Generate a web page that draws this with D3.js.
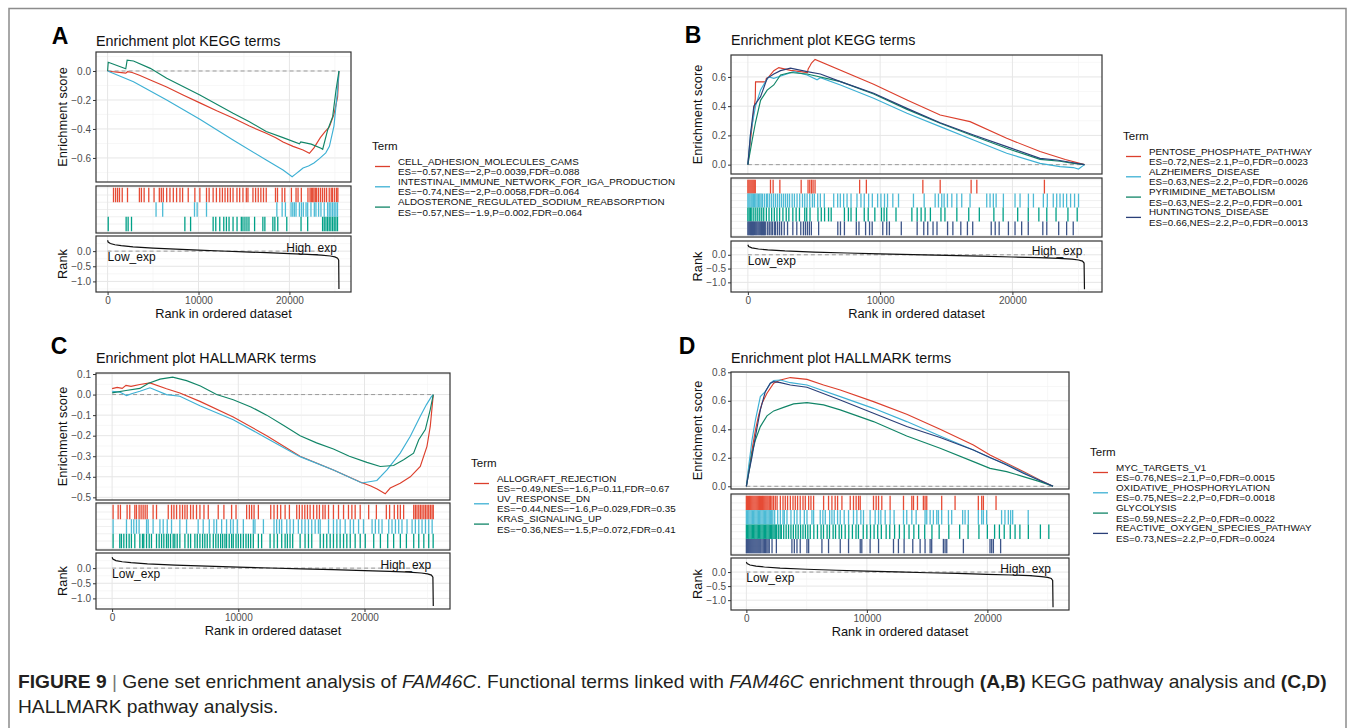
<!DOCTYPE html>
<html>
<head>
<meta charset="utf-8">
<script src="https://cdn.jsdelivr.net/npm/d3@7"></script>
<style>
  body { margin: 0; background: #fff; }
  svg { display: block; }
  text { font-family: 'Liberation Sans', Arial, Helvetica, sans-serif; }
</style>
</head>
<body>
<svg id="fig" width="1355" height="728"></svg>
<script>
// ---------- data ----------
const xTicks = [0, 10000, 20000]
const xMinor = [5000, 15000, 25000]
const rankTicks = [0, -0.5, -1]
const rankMetric = [[0, 0.36], [60, 0.3], [300, 0.25], [800, 0.21], [1500, 0.18], [2800, 0.14], [5000, 0.1], [7500, 0.065],
  [10000, 0.035], [12500, 0.005], [15000, -0.025], [17500, -0.05], [20000, -0.08], [22000, -0.105], [23500, -0.13],
  [24500, -0.16], [25000, -0.19], [25300, -0.23], [25420, -0.3], [25450, -1.25]]

// A: KEGG (negative)
const termsA = ['CELL_ADHESION_MOLECULES_CAMS', 'INTESTINAL_IMMUNE_NETWORK_FOR_IGA_PRODUCTION', 'ALDOSTERONE_REGULATED_SODIUM_REABSORPTION']
const statsA = ['ES=−0.57,NES=−2,P=0.0039,FDR=0.088', 'ES=−0.74,NES=−2,P=0.0058,FDR=0.064', 'ES=−0.57,NES=−1.9,P=0.002,FDR=0.064']
const esTicksA = [0, -0.2, -0.4, -0.6]
const esCams = [[0, 0], [600, -0.005], [1300, -0.01], [2000, -0.015], [2200, -0.005], [2700, -0.01], [3500, -0.03], [4700, -0.062],
  [6500, -0.11], [8300, -0.165], [10150, -0.22], [12000, -0.275], [13800, -0.325], [15600, -0.38], [17450, -0.43], [18500, -0.46],
  [19300, -0.49], [20400, -0.52], [21500, -0.545], [22200, -0.568], [22700, -0.53], [23400, -0.46], [23900, -0.42], [24400, -0.385],
  [24900, -0.3], [25300, -0.18], [25450, 0]]
const esIga = [[0, 0], [2850, -0.074], [6500, -0.2], [10150, -0.333], [13800, -0.476], [17450, -0.614], [19300, -0.683], [20300, -0.73],
  [20700, -0.71], [21100, -0.69], [21500, -0.67], [22100, -0.655], [22700, -0.635], [23300, -0.605], [24000, -0.565], [24400, -0.52],
  [24900, -0.38], [25300, -0.13], [25450, 0]]
const esAldo = [[0, 0], [70, 0.06], [2000, 0.015], [2150, 0.075], [2850, 0.069], [4700, 0.018], [6500, -0.05], [10150, -0.166],
  [13800, -0.292], [15600, -0.35], [17450, -0.418], [19300, -0.46], [21100, -0.503], [21250, -0.49], [22400, -0.505], [23480, -0.533],
  [23660, -0.54], [24210, -0.407], [24760, -0.315], [25130, -0.13], [25450, 0]]
const hitsCams = [650, 880, 1100, 1310, 1610, 2190, 3500, 3720, 4020, 4530, 5110, 5690, 5910, 6130, 6500, 6860, 7230, 7590, 7960, 8250,
  8870, 9600, 10150, 10880, 11170, 11610, 11970, 12340, 12630, 12920, 13210, 13500, 13800, 14230, 14530, 14890, 15260, 15440, 15990,
  16280, 16570, 16860, 17150, 17450, 18470, 18690, 19200, 19490, 20220, 20730, 20950, 21310, 22040, 22270, 22410, 22560, 22700, 22850,
  23000, 23210, 23430, 23650, 23870, 24090, 24380, 24600, 24750, 24970, 25190, 25330]
const hitsIga = [5330, 6060, 9560, 9850, 10880, 18620, 19200, 19560, 20180, 20370, 20550, 20730, 21100, 21320, 21530, 21830, 22010,
  22370, 22740, 22920, 23210, 23470, 23830, 24200, 24380, 24560, 24750, 24930, 25110, 25290]
const hitsAldo = [70, 2040, 2260, 2630, 8500, 9130, 11610, 11900, 12340, 12780, 13070, 13360, 13800, 14240, 14710, 14890, 15110, 15330,
  15550, 16170, 17080, 17300, 18180, 18400, 18720, 19710, 21280, 22010, 23650, 23830, 24020, 24200, 24380, 24560, 24750, 24930, 25110, 25290]

// B: KEGG (positive)
const termsB = ['PENTOSE_PHOSPHATE_PATHWAY', 'ALZHEIMERS_DISEASE', 'PYRIMIDINE_METABOLISM', 'HUNTINGTONS_DISEASE']
const statsB = ['ES=0.72,NES=2.1,P=0,FDR=0.0023', 'ES=0.63,NES=2.2,P=0,FDR=0.0026', 'ES=0.63,NES=2.2,P=0,FDR=0.001', 'ES=0.66,NES=2.2,P=0,FDR=0.0013']
const esTicksB = [0, 0.2, 0.4, 0.6]
const esPentose = [[0, 0], [200, 0.17], [450, 0.37], [560, 0.45], [580, 0.566], [1330, 0.566], [1400, 0.59], [1580, 0.6], [1960, 0.643],
  [2340, 0.664], [3220, 0.645], [3970, 0.636], [4500, 0.63], [4560, 0.655], [4690, 0.675], [4810, 0.695], [5080, 0.72], [9510, 0.55],
  [12030, 0.442], [14540, 0.34], [16800, 0.294], [19570, 0.18], [22090, 0.09], [24000, 0.035], [25450, 0]]
const esAlz = [[0, 0], [200, 0.21], [580, 0.4], [960, 0.51], [1330, 0.568], [1580, 0.6], [1960, 0.59], [2720, 0.613], [3470, 0.636],
  [4480, 0.613], [5230, 0.58], [5480, 0.595], [7000, 0.545], [9510, 0.454], [12030, 0.351], [14540, 0.26], [17060, 0.169], [19570, 0.078],
  [22090, 0.009], [23600, -0.014], [24600, -0.02], [25000, -0.03], [25450, 0]]
const esPyr = [[0, 0], [330, 0.17], [580, 0.29], [960, 0.44], [1460, 0.51], [1960, 0.545], [2470, 0.613], [3220, 0.63], [4480, 0.62],
  [7000, 0.568], [9510, 0.483], [12030, 0.378], [14540, 0.283], [17060, 0.196], [19570, 0.112], [22090, 0.036], [23600, 0.023],
  [24500, 0.01], [25450, 0]]
const esHunt = [[0, 0], [200, 0.21], [450, 0.4], [960, 0.465], [1460, 0.59], [1960, 0.62], [2470, 0.643], [3220, 0.66], [4480, 0.636],
  [5480, 0.62], [7000, 0.568], [9510, 0.488], [12030, 0.385], [14540, 0.287], [17060, 0.203], [19570, 0.123], [22090, 0.043],
  [23350, 0.032], [24500, 0.015], [25450, 0]]
const hitsPentose = [0, 80, 160, 240, 320, 400, 480, 560, 1710, 1910, 2420, 4030, 4550, 4680, 4810, 4930, 5080, 8450, 8960, 13230,
  14540, 16880, 17310, 22420]
const hitsAlz = [0, 80, 160, 250, 330, 420, 500, 600, 700, 800, 900, 1000, 1100, 1250, 1400, 1500, 1650, 1800, 1950, 2100, 2250, 2400,
  2550, 2700, 2850, 3000, 3150, 3350, 3520, 3720, 3920, 4130, 4300, 4480, 4680, 4880, 5030, 5280, 5480, 5780, 6490, 6790, 6990, 7240,
  7500, 7800, 8250, 8550, 8800, 9130, 9410, 9810, 10060, 10330, 10560, 10960, 11390, 12520, 13330, 14160, 14410, 14660, 14840, 15090,
  15420, 15800, 16170, 16800, 18060, 18310, 18560, 18770, 19320, 20200, 20580, 21210, 21590, 22340, 22640, 23090, 23350, 23600, 23850,
  24100, 24400, 24700, 25000]
const hitsPyr = [0, 100, 200, 300, 450, 600, 750, 900, 1050, 1200, 1400, 1600, 1800, 2000, 2200, 2400, 2650, 2900, 3100, 3400, 3650,
  3900, 4300, 4450, 4700, 5300, 5550, 5800, 6100, 6300, 7300, 7600, 7800, 8200, 8800, 9100, 9600, 10100, 10300, 10500, 11200, 12400,
  12800, 13100, 13400, 13800, 14600, 14900, 15800, 16700, 17500, 18600, 19300, 20400, 21200, 22000, 22600, 23300, 24200, 24900]
const hitsHunt = [0, 70, 140, 210, 280, 350, 420, 490, 560, 630, 700, 780, 860, 940, 1020, 1100, 1180, 1260, 1350, 1500, 1620, 1750,
  1850, 2000, 2100, 2250, 2400, 2550, 2750, 3000, 3400, 3700, 4000, 4200, 4350, 4500, 4650, 4800, 5350, 6800, 7000, 7300, 8200, 8400,
  8900, 9200, 9400, 10200, 10500, 10700, 11600, 12800, 13300, 13600, 14000, 14300, 15100, 15500, 16100, 16600, 17000, 18400, 18700,
  19000, 19700, 20200, 20700, 21200, 22300, 22600, 23500, 24100, 24600]

// C: HALLMARK (negative)
const termsC = ['ALLOGRAFT_REJECTION', 'UV_RESPONSE_DN', 'KRAS_SIGNALING_UP']
const statsC = ['ES=−0.49,NES=−1.6,P=0.11,FDR=0.67', 'ES=−0.44,NES=−1.6,P=0.029,FDR=0.35', 'ES=−0.36,NES=−1.5,P=0.072,FDR=0.41']
const esTicksC = [0.1, 0, -0.1, -0.2, -0.3, -0.4, -0.5]
const esAllo = [[0, 0.029], [400, 0.035], [800, 0.03], [1100, 0.045], [1500, 0.04], [2200, 0.049], [3000, 0.057], [4310, 0.028],
  [5370, 0.008], [6960, -0.033], [9600, -0.109], [12250, -0.2], [14890, -0.3], [17540, -0.367], [19660, -0.425], [20500, -0.445],
  [21000, -0.46], [21640, -0.483], [22040, -0.455], [22830, -0.431], [23630, -0.4], [24420, -0.35], [24950, -0.252], [25210, -0.155],
  [25450, 0]]
const esUv = [[0, 0.016], [600, 0.012], [1140, -0.005], [1600, 0.005], [2200, 0.016], [3000, 0.033], [4310, 0], [5370, -0.008],
  [6960, -0.054], [9600, -0.122], [12250, -0.212], [14890, -0.302], [17540, -0.367], [19790, -0.43], [20980, -0.418], [21780, -0.366],
  [22830, -0.285], [23630, -0.203], [24420, -0.106], [24900, -0.05], [25300, -0.01], [25450, 0]]
const esKras = [[0, 0.008], [1100, 0.02], [2200, 0.03], [2900, 0.055], [3800, 0.075], [4800, 0.085], [5900, 0.068], [7000, 0.042],
  [8280, 0], [9600, -0.025], [11000, -0.06], [12250, -0.1], [13600, -0.15], [14900, -0.2], [16200, -0.235], [17540, -0.265],
  [18800, -0.3], [20190, -0.33], [21250, -0.35], [22300, -0.345], [23100, -0.317], [23890, -0.285], [24300, -0.22], [24820, -0.17],
  [25210, -0.073], [25450, 0]]
const hitsAllo = [80, 480, 660, 1190, 1400, 1800, 1930, 2140, 2300, 2460, 2620, 2780, 3250, 3520, 4450, 4710, 4900, 5110, 5370, 5580,
  5770, 5950, 6220, 6430, 6690, 6960, 7280, 7620, 8410, 8860, 9470, 9820, 10660, 10880, 11060, 11250, 11590, 12570, 12830, 13100,
  13360, 13710, 14050, 14630, 14840, 15060, 15270, 15480, 15690, 15960, 16220, 16430, 16700, 16880, 17150, 17540, 17940, 18340, 18730,
  19000, 19260, 19660, 20330, 20940, 21730, 21990, 22360, 22630, 22840, 23100, 23900, 24030, 24160, 24300, 24430, 24560, 24700, 24830,
  24960, 25090, 25220, 25350, 25450]
const hitsUv = [80, 1140, 1530, 1720, 1930, 2140, 2730, 2860, 3250, 3790, 4050, 4370, 4710, 5370, 5900, 6820, 7220, 7700, 8070, 8280,
  8680, 9070, 9390, 9600, 9920, 10400, 11190, 11320, 11990, 12830, 13040, 13260, 13440, 13840, 14100, 14370, 14760, 15030, 15290,
  15560, 15820, 16090, 16350, 16490, 17150, 17540, 17810, 18070, 18470, 18870, 19130, 19530, 19920, 20600, 20860, 21130, 21390, 21920,
  22180, 22450, 22710, 22970, 23370, 23770, 24030, 24300, 24560, 24830, 25090, 25360]
const hitsKras = [80, 610, 740, 930, 1140, 1350, 1530, 1800, 2200, 2410, 2510, 2730, 2940, 3120, 3520, 3730, 3920, 4100, 4310, 4450,
  4630, 4840, 4970, 5160, 5370, 5770, 6030, 6220, 6560, 6750, 6960, 7170, 7350, 7540, 7750, 8020, 8220, 8410, 8600, 8760, 8940, 9070,
  9280, 9470, 9600, 9820, 10000, 10190, 10400, 10610, 10800, 10980, 11190, 11590, 11850, 12520, 12830, 13100, 13440, 13710, 13890,
  14100, 14310, 14900, 15290, 15560, 15820, 16490, 16750, 17010, 17280, 17540, 17810, 18070, 18340, 18600, 18870, 19260, 19660, 20060,
  20730, 21260, 21840, 22310, 22840, 23320, 23900, 24300, 24700, 25090, 25440]

// D: HALLMARK (positive)
const termsD = ['MYC_TARGETS_V1', 'OXIDATIVE_PHOSPHORYLATION', 'GLYCOLYSIS', 'REACTIVE_OXYGEN_SPECIES_PATHWAY']
const statsD = ['ES=0.76,NES=2.1,P=0,FDR=0.0015', 'ES=0.75,NES=2.2,P=0,FDR=0.0018', 'ES=0.59,NES=2.2,P=0,FDR=0.0022', 'ES=0.73,NES=2.2,P=0,FDR=0.0024']
const esTicksD = [0, 0.2, 0.4, 0.6, 0.8]
const esMyc = [[0, 0], [190, 0.115], [470, 0.255], [750, 0.395], [1020, 0.5], [1300, 0.582], [1710, 0.653], [2270, 0.723], [2820, 0.746],
  [3650, 0.763], [5030, 0.75], [6410, 0.711], [7790, 0.676], [10550, 0.594], [13310, 0.505], [16080, 0.4], [18840, 0.29], [20220, 0.22],
  [21600, 0.161], [22980, 0.103], [24360, 0.044], [25450, 0]]
const esOx = [[0, 0], [190, 0.138], [470, 0.325], [750, 0.465], [1160, 0.63], [1570, 0.664], [1990, 0.723], [2270, 0.742], [2820, 0.746],
  [3650, 0.727], [5030, 0.711], [7790, 0.629], [10550, 0.547], [13310, 0.454], [16080, 0.353], [18840, 0.255], [20220, 0.2],
  [21600, 0.155], [22980, 0.096], [24360, 0.04], [25450, 0]]
const esGly = [[0, 0], [190, 0.09], [470, 0.232], [750, 0.325], [1160, 0.419], [1710, 0.494], [2270, 0.529], [3090, 0.554], [3920, 0.578],
  [5030, 0.587], [6410, 0.571], [7790, 0.536], [10550, 0.454], [13310, 0.353], [16080, 0.267], [18840, 0.173], [20220, 0.126],
  [21600, 0.103], [22980, 0.068], [24360, 0.033], [25450, 0]]
const esRos = [[0, 0], [190, 0.09], [470, 0.208], [750, 0.348], [1160, 0.536], [1570, 0.664], [1990, 0.723], [2270, 0.734], [2820, 0.727],
  [3650, 0.711], [5030, 0.695], [7790, 0.606], [10550, 0.512], [13310, 0.419], [16080, 0.342], [18840, 0.255], [21600, 0.15],
  [22980, 0.091], [24360, 0.04], [25450, 0]]
const hitsMyc = [0, 90, 180, 270, 360, 450, 540, 630, 720, 810, 900, 990, 1080, 1170, 1260, 1350, 1440, 1530, 1620, 1710, 1800, 1900,
  2000, 2120, 2250, 2400, 2550, 2820, 3040, 3230, 3420, 3650, 3870, 4060, 4250, 4470, 4700, 4890, 5170, 5360, 5580, 6410, 6820, 7100,
  7370, 7570, 7930, 8620, 8890, 9110, 9310, 9450, 10550, 10770, 10970, 11240, 11930, 13040, 13730, 13870, 14200, 14690, 14830, 14970,
  16210, 17320, 19250, 19530, 19670, 20720]
const hitsOx = [0, 100, 200, 300, 400, 500, 600, 700, 800, 900, 1000, 1100, 1200, 1300, 1400, 1500, 1600, 1700, 1800, 1900, 2000, 2100,
  2200, 2350, 2600, 2820, 3040, 3150, 3370, 3700, 3980, 4200, 4470, 4810, 5030, 5440, 5580, 6130, 6350, 6550, 6910, 7100, 7290, 7570,
  7790, 8120, 8480, 8890, 9170, 9500, 9720, 10270, 10690, 10970, 11160, 11520, 11930, 12260, 13040, 13310, 13730, 14090, 14830, 14970,
  15250, 15520, 15800, 15940, 16210, 16770, 17040, 17950, 18150, 18420, 19250, 19530, 19670, 19940, 21180, 21460, 21740, 21930, 22100, 23390]
const hitsGly = [0, 100, 200, 300, 400, 500, 600, 700, 800, 900, 1000, 1100, 1200, 1300, 1400, 1500, 1600, 1700, 1800, 1900, 2000,
  2100, 2200, 2300, 2400, 2500, 2650, 2800, 2900, 3100, 3300, 3500, 3700, 3900, 4100, 4300, 4500, 4700, 4900, 5100, 5300, 5600, 5900,
  6200, 6400, 6700, 6900, 7200, 7400, 7700, 7900, 8200, 8500, 8800, 9100, 9300, 9700, 10000, 10300, 10600, 10900, 11200, 11600, 11900,
  12300, 12700, 13100, 13500, 13900, 14300, 14800, 15400, 16000, 16800, 17700, 18400, 19300, 20000, 20600, 21000, 21400, 21900, 22300,
  22700, 23400, 24400, 25100]
const hitsRos = [0, 80, 160, 240, 320, 400, 480, 560, 640, 720, 800, 880, 960, 1040, 1120, 1200, 1300, 1400, 1500, 1600, 1700, 1800,
  1900, 2130, 2490, 3780, 3980, 4200, 4470, 5030, 5170, 6270, 6820, 7790, 8480, 9450, 9580, 10270, 10970, 12210, 12620, 13090, 13810,
  14420, 14830, 15250, 15380, 16350, 16490, 16630, 18010, 20220, 20360, 20500, 21100]

// ---------- styles ----------
const lineColors = ['#DC3F2C', '#3DB0D4', '#118567', '#2A3F78']
const rugColors = ['#E64B35', '#4DBBD5', '#00A087', '#3C5488']
const xMax = 25500
const rankDomain = [-1.35, 0.5]

const panels = [
  { letter: 'A', lx: 60, ly: 36, title: 'Enrichment plot KEGG terms', ty: 41, left: 96, right: 351, esTop: 52, esBottom: 182,
    rugTop: 186, rugBottom: 233, rankTop: 236, rankBottom: 292, esDomain: [-0.766, 0.131], esTicks: esTicksA, legendTop: 146,
    terms: termsA, stats: statsA, es: [esCams, esIga, esAldo], hits: [hitsCams, hitsIga, hitsAldo] },
  { letter: 'B', lx: 693, ly: 35, title: 'Enrichment plot KEGG terms', ty: 40, left: 731, right: 1102, esTop: 55, esBottom: 174,
    rugTop: 178, rugBottom: 237, rankTop: 241, rankBottom: 292, esDomain: [-0.064, 0.75], esTicks: esTicksB, legendTop: 136,
    terms: termsB, stats: statsB, es: [esPentose, esAlz, esPyr, esHunt], hits: [hitsPentose, hitsAlz, hitsPyr, hitsHunt] },
  { letter: 'C', lx: 59, ly: 346, title: 'Enrichment plot HALLMARK terms', ty: 358, left: 96, right: 450, esTop: 373, esBottom: 500,
    rugTop: 503, rugBottom: 550, rankTop: 553, rankBottom: 609, esDomain: [-0.513, 0.105], esTicks: esTicksC, legendTop: 463,
    terms: termsC, stats: statsC, es: [esAllo, esUv, esKras], hits: [hitsAllo, hitsUv, hitsKras] },
  { letter: 'D', lx: 687, ly: 346, title: 'Enrichment plot HALLMARK terms', ty: 358, left: 731, right: 1069, esTop: 372, esBottom: 489,
    rugTop: 494, rugBottom: 555, rankTop: 558, rankBottom: 610, esDomain: [-0.019, 0.802], esTicks: esTicksD, legendTop: 452,
    terms: termsD, stats: statsD, es: [esMyc, esOx, esGly, esRos], hits: [hitsMyc, hitsOx, hitsGly, hitsRos] }
]

const svg = d3.select('#fig')
svg.append('rect').attr('width', 1355).attr('height', 728).attr('fill', '#fff')
svg.append('rect').attr('x', 9).attr('y', 8.5).attr('width', 1337).attr('height', 760)
  .attr('fill', 'none').attr('stroke', '#8c8c8c').attr('stroke-width', 1.5)

function hline(g, vals, y, x0, x1, color, w) {
  g.selectAll(null).data(vals).join('line')
    .attr('x1', x0).attr('x2', x1).attr('y1', (d) => y(d)).attr('y2', (d) => y(d))
    .attr('stroke', color).attr('stroke-width', w)
}
function vline(g, vals, x, y0, y1, color, w) {
  g.selectAll(null).data(vals).join('line')
    .attr('x1', (d) => x(d)).attr('x2', (d) => x(d)).attr('y1', y0).attr('y2', y1)
    .attr('stroke', color).attr('stroke-width', w)
}
function minorOf(ticks, domain) {
  const s = ticks.slice().sort((a, b) => a - b)
  const step = s[1] - s[0]
  const out = []
  for (let v = s[0] - step / 2; v <= domain[1]; v += step) if (v >= domain[0]) out.push(v)
  return out
}
function styleAxis(a) {
  a.select('.domain').remove()
  a.selectAll('.tick line').attr('stroke', '#333').attr('stroke-width', 1)
  a.selectAll('.tick text').attr('fill', '#4d4d4d').attr('font-size', 10)
    .attr('font-family', "'Liberation Sans', Arial, sans-serif")
}

function drawPanel(p) {
  const g = svg.append('g')
  const x = d3.scaleLinear().domain([-0.05 * xMax, 1.05 * xMax]).range([p.left, p.right])
  const yEs = d3.scaleLinear().domain(p.esDomain).range([p.esBottom, p.esTop])
  const yRank = d3.scaleLinear().domain(rankDomain).range([p.rankBottom, p.rankTop])
  const n = p.terms.length
  const rows = d3.scaleBand().domain(d3.range(n)).range([p.rugTop, p.rugBottom]).paddingOuter(0.12).paddingInner(0)
  const W = p.right - p.left

  // letter + title
  g.append('text').attr('x', p.lx).attr('y', p.ly).attr('text-anchor', 'middle').attr('dominant-baseline', 'central')
    .attr('font-size', 23).attr('font-weight', 'bold').attr('fill', '#000').text(p.letter)
  g.append('text').attr('x', p.left).attr('y', p.ty).attr('dominant-baseline', 'central')
    .attr('font-size', 14.3).attr('fill', '#111').text(p.title)

  // ---- ES panel ----
  const es = g.append('g')
  hline(es, minorOf(p.esTicks, p.esDomain), yEs, p.left, p.right, '#f2f2f2', 0.6)
  hline(es, p.esTicks, yEs, p.left, p.right, '#e6e6e6', 1)
  vline(es, xMinor, x, p.esTop, p.esBottom, '#f2f2f2', 0.6)
  vline(es, xTicks, x, p.esTop, p.esBottom, '#e6e6e6', 1)
  es.append('line').attr('x1', x(0)).attr('x2', x(25450)).attr('y1', yEs(0)).attr('y2', yEs(0))
    .attr('stroke', '#9a9a9a').attr('stroke-width', 1).attr('stroke-dasharray', '4,3')
  const line = d3.line().x((d) => x(d[0])).y((d) => yEs(d[1]))
  es.selectAll('path.es').data(p.es).join('path').attr('class', 'es')
    .attr('d', line).attr('fill', 'none').attr('stroke', (d, i) => lineColors[i]).attr('stroke-width', 1.15)
  es.append('rect').attr('x', p.left).attr('y', p.esTop).attr('width', W).attr('height', p.esBottom - p.esTop)
    .attr('fill', 'none').attr('stroke', '#333').attr('stroke-width', 1.2)
  es.append('g').attr('transform', `translate(${p.left},0)`)
    .call(d3.axisLeft(yEs).tickValues(p.esTicks).tickSize(3).tickPadding(2).tickFormat(d3.format('.1f')))
    .call(styleAxis)
  g.append('text').attr('transform', `translate(${p.left - 34},${(p.esTop + p.esBottom) / 2}) rotate(-90)`)
    .attr('text-anchor', 'middle').attr('dominant-baseline', 'central').attr('font-size', 12.8).attr('fill', '#111')
    .text('Enrichment score')

  // ---- rug panel ----
  const rug = g.append('g')
  const rowEdges = d3.range(n + 1).map((i) => p.rugTop + rows.step() * (i + 0.12))
  const rowMids = d3.range(n).map((i) => rows(i) + rows.bandwidth() / 2)
  rug.selectAll(null).data(rowEdges.concat(rowMids)).join('line')
    .attr('x1', p.left).attr('x2', p.right).attr('y1', (d) => d).attr('y2', (d) => d)
    .attr('stroke', '#ececec').attr('stroke-width', 0.8)
  vline(rug, xMinor, x, p.rugTop, p.rugBottom, '#f2f2f2', 0.6)
  vline(rug, xTicks, x, p.rugTop, p.rugBottom, '#e6e6e6', 1)
  p.hits.forEach((h, i) => {
    rug.append('g').selectAll('line').data(h).join('line')
      .attr('x1', (d) => x(d)).attr('x2', (d) => x(d))
      .attr('y1', rows(i)).attr('y2', rows(i) + rows.bandwidth())
      .attr('stroke', rugColors[i]).attr('stroke-width', 1.3)
  })
  rug.append('rect').attr('x', p.left).attr('y', p.rugTop).attr('width', W).attr('height', p.rugBottom - p.rugTop)
    .attr('fill', 'none').attr('stroke', '#333').attr('stroke-width', 1.2)

  // ---- rank panel ----
  const rk = g.append('g')
  hline(rk, [0.25, -0.25, -0.75, -1.25], yRank, p.left, p.right, '#f2f2f2', 0.6)
  hline(rk, rankTicks, yRank, p.left, p.right, '#e6e6e6', 1)
  vline(rk, xMinor, x, p.rankTop, p.rankBottom, '#f2f2f2', 0.6)
  vline(rk, xTicks, x, p.rankTop, p.rankBottom, '#e6e6e6', 1)
  rk.append('line').attr('x1', x(0)).attr('x2', x(25450)).attr('y1', yRank(0)).attr('y2', yRank(0))
    .attr('stroke', '#9a9a9a').attr('stroke-width', 1).attr('stroke-dasharray', '4,3')
  rk.append('path').datum(rankMetric)
    .attr('d', d3.line().x((d) => x(d[0])).y((d) => yRank(d[1])))
    .attr('fill', 'none').attr('stroke', '#111').attr('stroke-width', 1.2)
  rk.append('text').attr('x', x(0)).attr('y', yRank(0) + 1).attr('dominant-baseline', 'hanging')
    .attr('font-size', 12).attr('fill', '#111').text('Low_exp')
  rk.append('text').attr('x', x(25450) - 2).attr('y', yRank(0) + 0.5).attr('text-anchor', 'end')
    .attr('font-size', 12).attr('fill', '#111').text('High_exp')
  rk.append('rect').attr('x', p.left).attr('y', p.rankTop).attr('width', W).attr('height', p.rankBottom - p.rankTop)
    .attr('fill', 'none').attr('stroke', '#333').attr('stroke-width', 1.2)
  rk.append('g').attr('transform', `translate(${p.left},0)`)
    .call(d3.axisLeft(yRank).tickValues(rankTicks).tickSize(3).tickPadding(2).tickFormat(d3.format('.1f')))
    .call(styleAxis)
  rk.append('g').attr('transform', `translate(0,${p.rankBottom})`)
    .call(d3.axisBottom(x).tickValues(xTicks).tickSize(3).tickPadding(2).tickFormat(d3.format('d')))
    .call(styleAxis)
  g.append('text').attr('transform', `translate(${p.left - 34},${(p.rankTop + p.rankBottom) / 2}) rotate(-90)`)
    .attr('text-anchor', 'middle').attr('dominant-baseline', 'central').attr('font-size', 12.8).attr('fill', '#111')
    .text('Rank')
  g.append('text').attr('x', (p.left + p.right) / 2).attr('y', p.rankBottom + 21).attr('text-anchor', 'middle')
    .attr('dominant-baseline', 'central').attr('font-size', 12.8).attr('fill', '#111').text('Rank in ordered dataset')

  // ---- legend ----
  const lg = g.append('g').attr('transform', `translate(${p.right + 21},${p.legendTop})`)
  lg.append('text').attr('x', 0).attr('y', 0).attr('dominant-baseline', 'central').attr('font-size', 11.5)
    .attr('fill', '#111').text('Term')
  const items = lg.selectAll('g.item').data(p.terms).join('g').attr('class', 'item')
    .attr('transform', (d, i) => `translate(0,${15 + i * 20.3})`)
  items.append('line').attr('x1', 3).attr('x2', 18).attr('y1', 5.5).attr('y2', 5.5)
    .attr('stroke', (d, i) => lineColors[i]).attr('stroke-width', 1.3)
  items.append('text').attr('x', 26).attr('y', 0).attr('dominant-baseline', 'central').attr('font-size', 9.8)
    .attr('fill', '#111').text((d) => d)
  items.append('text').attr('x', 26).attr('y', 10.6).attr('dominant-baseline', 'central').attr('font-size', 9.8)
    .attr('fill', '#111').text((d, i) => p.stats[i])
}

panels.forEach(drawPanel)

// ---------- caption ----------
const cap = svg.append('g').attr('font-family', "'Liberation Sans Narrow', 'Liberation Sans', Arial, sans-serif")
  .attr('fill', '#231f20')
const capLine1 = [
  { t: 'FIGURE 9', w: 'bold' }, { t: ' | ', c: '#777' }, { t: 'Gene set enrichment analysis of ' }, { t: 'FAM46C', s: 'italic' },
  { t: '. Functional terms linked with ' }, { t: 'FAM46C', s: 'italic' }, { t: ' enrichment through ' }, { t: '(A,B)', w: 'bold' },
  { t: ' KEGG pathway analysis and ' }, { t: '(C,D)', w: 'bold' }
]
const capG = cap.append('g')
const t1 = capG.append('text').attr('x', 0).attr('y', 688.5).attr('font-size', 18).attr('xml:space', 'preserve')
capLine1.forEach((s) => {
  t1.append('tspan').text(s.t).attr('font-weight', s.w || 'normal').attr('font-style', s.s || 'normal')
    .attr('fill', s.c || null)
})
capG.append('text').attr('x', 0).attr('y', 713).attr('font-size', 18).text('HALLMARK pathway analysis.')
const natural = t1.node().getComputedTextLength()
const sx = 1309 / natural
capG.attr('transform', `translate(18,0) scale(${sx},1)`)
</script>
</body>
</html>
